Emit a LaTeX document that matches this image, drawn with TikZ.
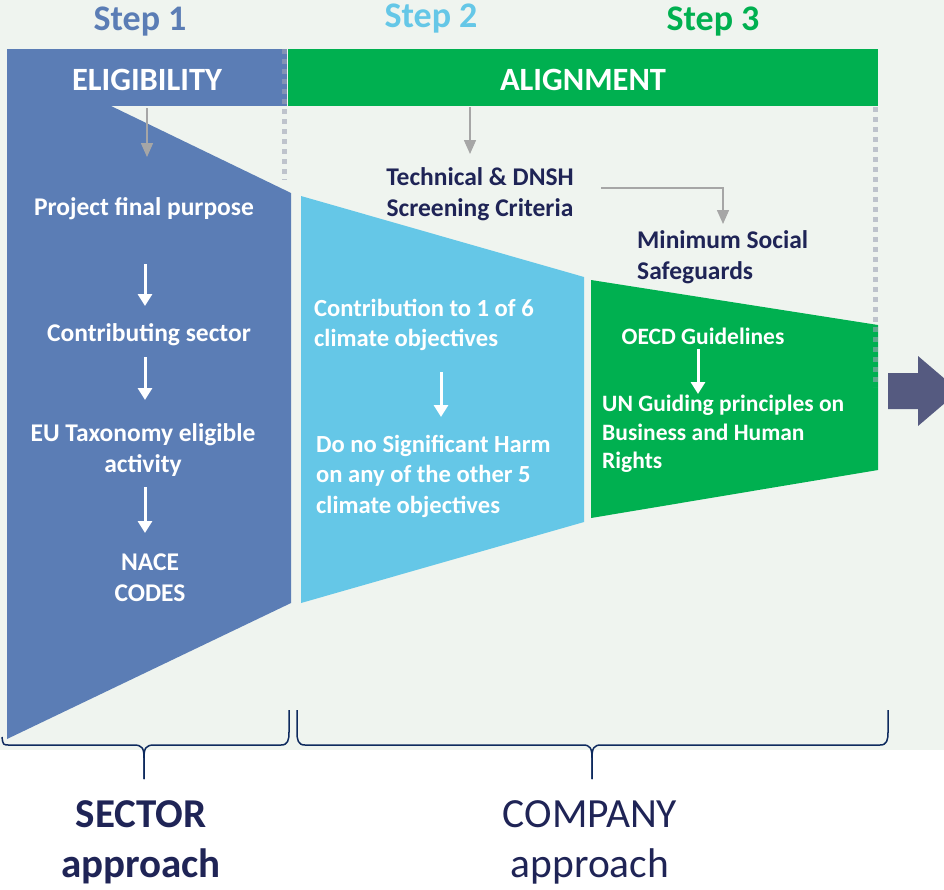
\documentclass[tikz,border=0pt]{standalone}
\usepackage{fontspec}
\setmainfont{Carlito}
\usetikzlibrary{arrows.meta}
\definecolor{bgc}{HTML}{EFF4EF}
\definecolor{blu}{HTML}{5B7DB5}
\definecolor{lblu}{HTML}{65C7E7}
\definecolor{grn}{HTML}{00B050}
\definecolor{navy}{HTML}{1F2456}
\definecolor{bracec}{HTML}{0E2A5E}
\definecolor{arrg}{HTML}{A6A6A6}
\definecolor{slate}{HTML}{555A80}
\definecolor{dotc}{HTML}{9EA3B5}
\begin{document}
\begin{tikzpicture}[x=1pt,y=-1pt,
  body/.style={font=\bfseries\fontsize{25.5}{31}\selectfont, text=white, inner sep=0pt},
  bodyb/.style={font=\bfseries\fontsize{24.6}{30.5}\selectfont, text=white, inner sep=0pt},
  navtxt/.style={font=\bfseries\fontsize{25.5}{31}\selectfont, text=navy, inner sep=0pt},
  grtxt/.style={font=\bfseries\fontsize{23.5}{28.5}\selectfont, text=white, inner sep=0pt},
  steplbl/.style={font=\bfseries\fontsize{36}{40}\selectfont, inner sep=0pt},
  hdr/.style={font=\bfseries\fontsize{32.5}{36}\selectfont, text=white, inner sep=0pt},
  garrow/.style={draw=arrg, line width=1.5pt, -{Triangle[width=12pt,length=14pt]}},
  warrow/.style={draw=white, line width=3pt, -{Triangle[width=14pt,length=12pt]}},
  dotline/.style={draw=dotc, opacity=.6, line width=5pt, dash pattern=on 5pt off 5pt},
  bracel/.style={draw=bracec, line width=1.5pt},
  apptxt/.style={text=navy, inner sep=0pt, align=center}]
\useasboundingbox (0,0) rectangle (944,889);
\clip (0,0) rectangle (944,889);
\fill[white] (0,0) rectangle (944,889);
\fill[bgc] (0,0) rectangle (944,750);

% headers
\node[hdr, fill=blu, minimum width=280pt, minimum height=57pt] (eligbox) at (147,77.5) {};
\node[hdr, fill=grn, minimum width=590pt, minimum height=57pt] (alignbox) at (583,77.5) {};
\node[hdr] (elig) at (147,80) {ELIGIBILITY};
\node[hdr] (align) at (583,80) {ALIGNMENT};

% funnel shapes
\fill[blu] (7,105.5) -- (110,105.5) -- (291,193) -- (291,603) -- (7,739) -- cycle;
\fill[lblu] (301,196) -- (584,277) -- (584,522) -- (301,603) -- cycle;
\fill[grn] (591,280) -- (878,325) -- (878,470) -- (591,518) -- cycle;

% dotted separators
\draw[dotline] (284,49) -- (284,180);
\draw[dotline] (875,107) -- (875,387);

% step labels
\node[steplbl, text=blu] (s1) at (140,22) {Step 1};
\node[steplbl, text=lblu] (s2) at (431,19) {Step 2};
\node[steplbl, text=grn] (s3) at (713,22) {Step 3};

% step 1 texts
\node[body] (pfp) at (144,209) {Project final purpose};
\node[body] (cs) at (149,335) {Contributing sector};
\node[body, align=center] (eut) at (143,450) {EU Taxonomy eligible\\activity};
\node[body, align=center] (nace) at (150,578) {NACE\\CODES};

\coordinate (w1a) at (145,264); \coordinate (w1b) at (145,306);
\coordinate (w2a) at (145,357); \coordinate (w2b) at (145,400);
\coordinate (w3a) at (145,487); \coordinate (w3b) at (145,533);
\draw[warrow] (w1a) -- (w1b);
\draw[warrow] (w2a) -- (w2b);
\draw[warrow] (w3a) -- (w3b);

% step 2 texts
\node[navtxt, align=center] (tech) at (480,194) {Technical \& DNSH\\Screening Criteria};
\node[bodyb, align=left, anchor=west] (contr) at (314,325) {Contribution to 1 of 6\\climate objectives};
\node[bodyb, align=left, anchor=west] (dnsh) at (316,476) {Do no Significant Harm\\on any of the other 5\\climate objectives};
\coordinate (w4a) at (441,372); \coordinate (w4b) at (441,417);
\draw[warrow] (w4a) -- (w4b);

% step 3 texts
\node[navtxt, align=left, anchor=west] (mss) at (637,257) {Minimum Social\\Safeguards};
\node[grtxt] (oecd) at (703,336) {OECD Guidelines};
\node[grtxt, align=left, anchor=west] (ungp) at (602,434) {UN Guiding principles on\\Business and Human\\Rights};
\coordinate (w5a) at (698,349); \coordinate (w5b) at (698,394);
\draw[warrow] (w5a) -- (w5b);

% gray arrows
\coordinate (g1a) at (147,108); \coordinate (g1b) at (147,157);
\draw[garrow] (g1a) -- (g1b);
\coordinate (g2a) at (470,107); \coordinate (g2b) at (470,154);
\draw[garrow] (g2a) -- (g2b);
\coordinate (techR) at (601,188); \coordinate (mssTop) at (723,224);
\draw[garrow] (techR) -| (mssTop);

% big right arrow
\fill[slate] (888,373) -- (918,373) -- (918,356) -- (959,391) -- (918,426) -- (918,409) -- (888,409) -- cycle;

% braces
\draw[bracel] (2,737) .. controls (3,745) .. (10,745) -- (134,745) .. controls (142,745) and (144,748) .. (144,758) -- (144,779);
\draw[bracel] (144,779) -- (144,758) .. controls (144,748) and (146,745) .. (154,745) -- (281,745) .. controls (288,745) and (289,740) .. (289,732) -- (289,710);
\draw[bracel] (297,710) -- (297,732) .. controls (297,740) and (298,745) .. (305,745) -- (583,745) .. controls (590,745) and (592,748) .. (592,758) -- (592,779);
\draw[bracel] (592,779) -- (592,758) .. controls (592,748) and (594,745) .. (601,745) -- (880,745) .. controls (887,745) and (888,740) .. (888,732) -- (888,710);

% bottom labels
\node[apptxt, font=\bfseries\fontsize{41}{50}\selectfont] (sector) at (141,842) {SECTOR\\approach};
\node[apptxt, font=\fontsize{41.5}{50}\selectfont] (company) at (590,842) {COMPANY\\approach};
\end{tikzpicture}
\end{document}
